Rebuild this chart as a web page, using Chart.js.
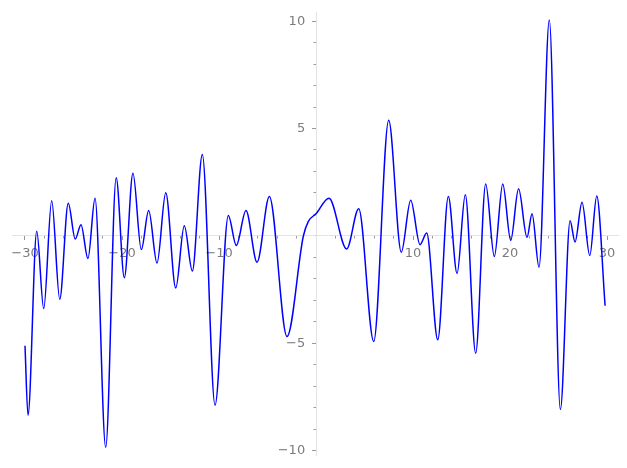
<!DOCTYPE html>
<html>
<head>
<meta charset="utf-8">
<script src="https://cdn.jsdelivr.net/npm/chart.js@4"></script>
<style>
  html, body { margin: 0; padding: 0; background: #fff; }
  #wrap { width: 627px; height: 468px; }
</style>
</head>
<body>
<div id="wrap"><canvas id="c" width="627" height="468"></canvas></div>
<script>
// x positions of the turning points of the curve
var xs = [-30, -29.69, -28.79, -28.07, -27.25, -26.42, -25.54, -24.82, -24.23, -23.51,
  -22.78, -21.68, -20.60, -19.76, -18.87, -18.01, -17.25, -16.39, -15.49, -14.46,
  -13.58, -12.75, -11.72, -10.41, -9.04, -8.22, -7.22, -6.08, -4.81, -2.99,
  -1.31, -0.79, 0, 1.34, 3.16, 4.40, 5.95, 7.49, 8.79, 9.76,
  10.72, 11.41, 12.55, 13.64, 14.54, 15.39, 16.46, 17.49, 18.38, 19.25,
  20.07, 20.88, 21.75, 22.27, 22.99, 24.05, 25.19, 26.19, 26.70, 27.42,
  28.22, 28.94, 29.8]
var ys = [-5.12, -8.36, 0.21, -3.39, 1.64, -2.95, 1.52, -0.15, 0.52, -1.06,
  1.75, -9.85, 2.71, -1.95, 2.91, -0.64, 1.18, -1.27, 2.01, -2.43,
  0.47, -1.64, 3.79, -7.89, 0.95, -0.45, 1.18, -1.23, 1.83, -4.69,
  -0.02, 0.67, 1.03, 1.75, -0.61, 1.26, -4.92, 5.38, -0.76, 1.66,
  -0.41, 0.13, -4.84, 1.83, -1.75, 1.91, -5.47, 2.42, -0.96, 2.42,
  -0.21, 2.19, -0.07, 1.03, -1.46, 10.06, -8.09, 0.70, -0.29, 1.56,
  -0.92, 1.86, -3.26]

var xMin = -31.34, xMax = 31.13
var yMin = -10.21, yMax = 10.39

var pts = []
for (let i = 0; i < xs.length; i++) pts.push({x: xs[i], y: ys[i]})

function fmt(v) {
  if (v === 0) return ''
  return v < 0 ? '\u2212' + Math.abs(v) : '' + v
}
// y labels sit right on the centred axis, so push them left with some spacing
function fmtY(v) {
  if (v === 0) return ''
  return fmt(v) + '  \u2009'
}

var labelFont = {family: 'DejaVu Sans', size: 13}
var tickCol = '#9a9a9a'

new Chart(document.getElementById('c'), {
  type: 'line',
  data: {
    datasets: [{
      data: pts,
      borderColor: '#0000ff',
      borderWidth: 1.5,
      pointRadius: 0,
      fill: false,
      cubicInterpolationMode: 'monotone'
    }]
  },
  options: {
    responsive: false,
    animation: false,
    layout: {padding: {left: 12, right: 9, top: 10, bottom: 13}},
    plugins: {legend: {display: false}, tooltip: {enabled: false}},
    scales: {
      x: {
        type: 'linear', min: xMin, max: xMax,
        position: {y: 0},
        afterFit: function(s) { s.height = 0 },
        border: {display: true, color: '#e3e3e3', width: 1},
        grid: {drawOnChartArea: false, drawTicks: true, tickLength: 4, tickColor: tickCol},
        ticks: {stepSize: 10, includeBounds: false, autoSkip: false, maxRotation: 0,
          padding: 6, color: '#7c7c7c', font: labelFont, callback: fmt}
      },
      xMinor: {
        type: 'linear', axis: 'x', min: xMin, max: xMax,
        position: {y: 0},
        afterFit: function(s) { s.height = 0 },
        border: {display: false},
        grid: {drawOnChartArea: false, drawTicks: true, tickLength: 2.5, tickColor: tickCol},
        ticks: {display: false, stepSize: 2, includeBounds: false, autoSkip: false}
      },
      y: {
        type: 'linear', min: yMin, max: yMax,
        position: {x: 0},
        afterFit: function(s) { s.width = 0 },
        border: {display: true, color: '#e3e3e3', width: 1},
        grid: {drawOnChartArea: false, drawTicks: true, tickLength: 4, tickColor: tickCol},
        ticks: {stepSize: 5, includeBounds: false, autoSkip: false,
          padding: 5, color: '#7c7c7c', font: labelFont, callback: fmtY}
      },
      yMinor: {
        type: 'linear', axis: 'y', min: yMin, max: yMax,
        position: {x: 0},
        afterFit: function(s) { s.width = 0 },
        border: {display: false},
        grid: {drawOnChartArea: false, drawTicks: true, tickLength: 2.5, tickColor: tickCol},
        ticks: {display: false, stepSize: 1, includeBounds: false, autoSkip: false}
      }
    }
  }
})
</script>
</body>
</html>
